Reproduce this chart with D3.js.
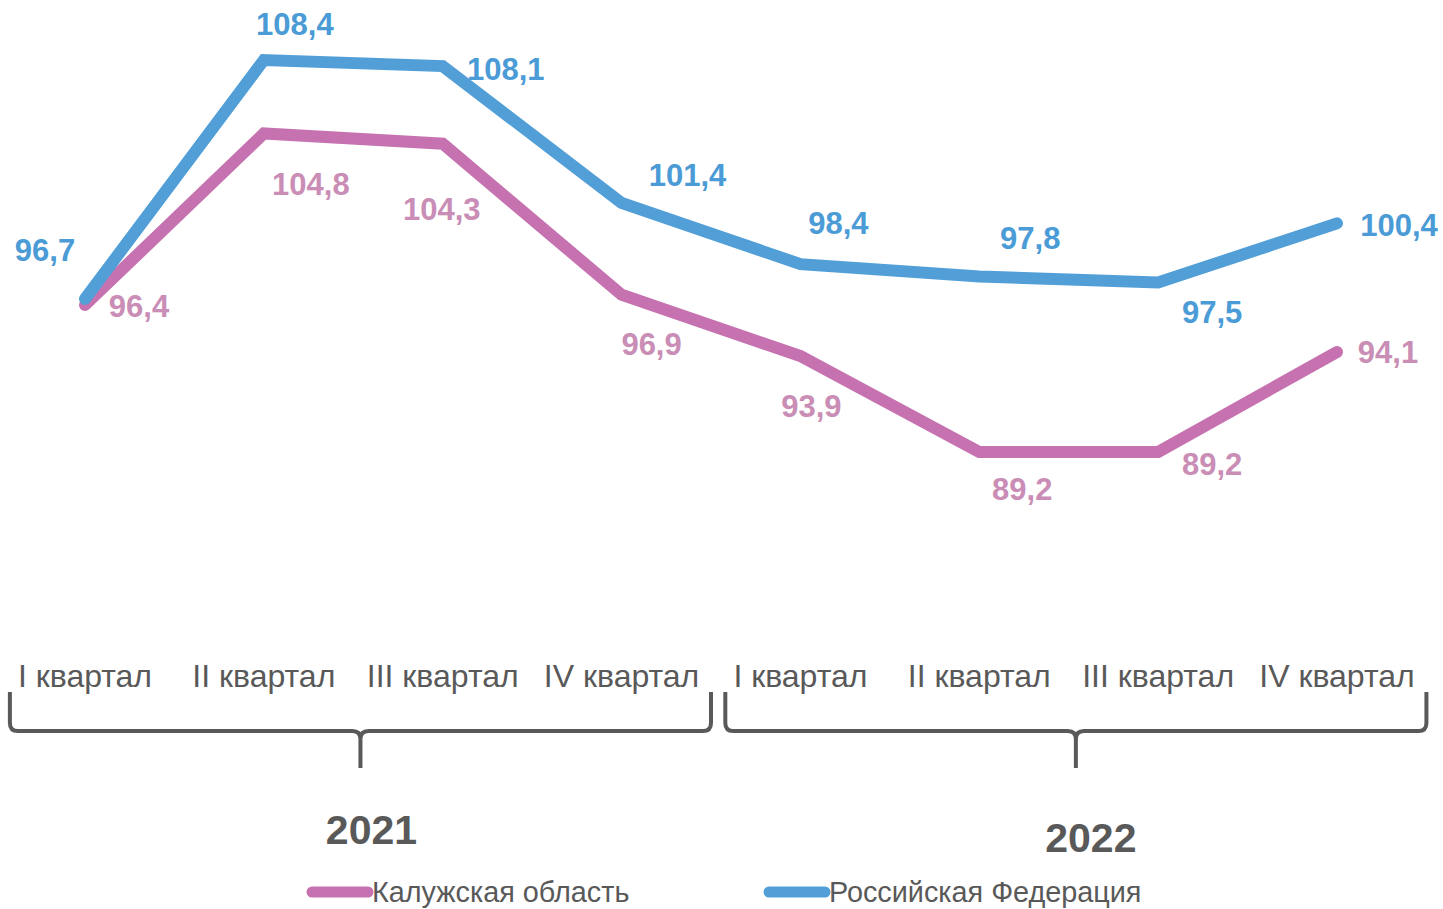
<!DOCTYPE html>
<html>
<head>
<meta charset="utf-8">
<script src="https://cdn.jsdelivr.net/npm/d3@7"></script>
<style>
  body { margin: 0; background: #fff; }
  svg { font-family: "Liberation Sans", Arial, sans-serif; }
</style>
</head>
<body>
<script>
(function() {

    const width = 1443;
    const height = 909;

    // quarters and years
    const quarters = ["I квартал", "II квартал", "III квартал", "IV квартал",
                      "I квартал", "II квартал", "III квартал", "IV квартал"];
    const years = ["2021", "2022"];

    // series values
    const kaluga = [96.4, 104.8, 104.3, 96.9, 93.9, 89.2, 89.2, 94.1];
    const russia = [96.7, 108.4, 108.1, 101.4, 98.4, 97.8, 97.5, 100.4];

    const seriesNames = ["Калужская область", "Российская Федерация"];

    // label offsets from each point (dx, dy) - placement only
    const kalugaLabelPos = [[54, 12], [47, 61], [-1, 76], [30, 60], [11, 61], [43, 48], [54, 23], [51, 11]];
    const russiaLabelPos = [[-40, -38], [31, -25], [63, 14], [66, -17], [38, -30], [51, -27], [54, 40], [62, 13]];

    const pinkLine = "#c672b0";
    const blueLine = "#529fd8";
    const pinkText = "#c98db6";
    const blueText = "#4a9bd6";
    const grey = "#595959";

    let svg = d3.select("body").append("svg")
        .attr("width", width)
        .attr("height", height);

    let x = d3.scalePoint()
        .domain(d3.range(quarters.length))
        .range([85, 1337]);

    // 108.4 -> 60, 89.2 -> 452
    let y = d3.scaleLinear()
        .domain([89.2, 108.4])
        .range([452, 60]);

    let line = d3.line()
        .x((d, i) => x(i))
        .y(d => y(d));

    let series = [
        { name: seriesNames[0], values: kaluga, color: pinkLine, text: pinkText, pos: kalugaLabelPos },
        { name: seriesNames[1], values: russia, color: blueLine, text: blueText, pos: russiaLabelPos }
    ];

    // lines
    svg.selectAll("path.series")
        .data(series)
        .enter()
        .append("path")
        .attr("class", "series")
        .attr("d", d => line(d.values))
        .style("fill", "none")
        .style("stroke", d => d.color)
        .style("stroke-width", 12)
        .style("stroke-linecap", "round")
        .style("stroke-linejoin", "miter");

    // data labels
    series.forEach(s => {
        svg.append("g")
            .selectAll("text")
            .data(s.values)
            .enter()
            .append("text")
            .attr("x", (d, i) => x(i) + s.pos[i][0])
            .attr("y", (d, i) => y(d) + s.pos[i][1])
            .attr("text-anchor", "middle")
            .style("font-size", "31px")
            .style("font-weight", "bold")
            .style("fill", s.text)
            .text(d => d.toFixed(1).replace(".", ","));
    });

    // category labels
    svg.append("g")
        .selectAll("text")
        .data(quarters)
        .enter()
        .append("text")
        .attr("x", (d, i) => x(i))
        .attr("y", 687)
        .attr("text-anchor", "middle")
        .style("font-size", "32px")
        .style("fill", grey)
        .text(d => d);

    // year braces
    let step = x.step();
    years.forEach((yr, k) => {
        let x0 = x(k * 4) - step * 0.42;
        let x1 = x(k * 4 + 3) + step * 0.5;
        let xm = (x0 + x1) / 2;
        let top = 692, mid = 731, tip = 768, r = 8;
        let p = d3.path();
        p.moveTo(x0, top);
        p.lineTo(x0, mid - r);
        p.quadraticCurveTo(x0, mid, x0 + r, mid);
        p.lineTo(xm - r, mid);
        p.quadraticCurveTo(xm, mid, xm, mid + r);
        p.lineTo(xm, tip);
        p.moveTo(xm, mid + r);
        p.quadraticCurveTo(xm, mid, xm + r, mid);
        p.lineTo(x1 - r, mid);
        p.quadraticCurveTo(x1, mid, x1, mid - r);
        p.lineTo(x1, top);
        svg.append("path")
            .attr("d", p.toString())
            .style("fill", "none")
            .style("stroke", grey)
            .style("stroke-width", 4);

        svg.append("text")
            .attr("x", xm + (k === 0 ? 11 : 15))
            .attr("y", k === 0 ? 844 : 852)
            .attr("text-anchor", "middle")
            .style("font-size", "41px")
            .style("font-weight", "bold")
            .style("fill", grey)
            .text(yr);
    });

    // legend
    let legendX = [312, 769];
    let legend = svg.selectAll("g.legend")
        .data(series)
        .enter()
        .append("g")
        .attr("class", "legend")
        .attr("transform", (d, i) => "translate(" + legendX[i] + ",892)");

    legend.append("line")
        .attr("x1", 0)
        .attr("x2", 56)
        .style("stroke", d => d.color)
        .style("stroke-width", 11)
        .style("stroke-linecap", "round");

    legend.append("text")
        .attr("x", 60)
        .attr("y", 10)
        .style("font-size", "28.8px")
        .style("fill", grey)
        .text(d => d.name);

})();
</script>
</body>
</html>
